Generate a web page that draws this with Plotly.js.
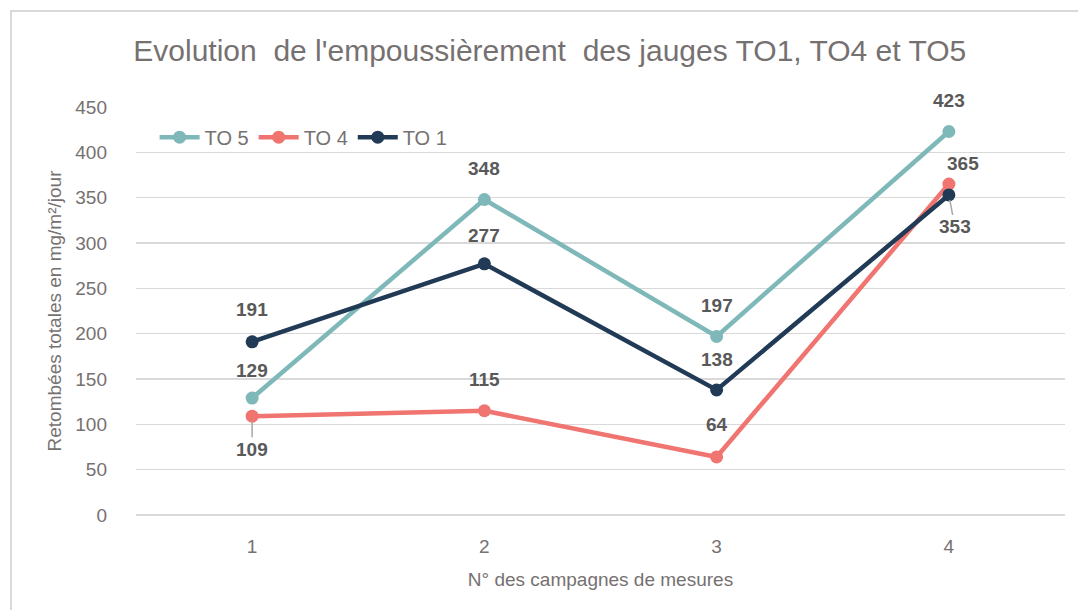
<!DOCTYPE html>
<html><head><meta charset="utf-8">
<script src="https://cdn.plot.ly/plotly-3.0.1.min.js"></script>
<style>
html,body{margin:0;padding:0;background:#fff;}
#wrap{position:relative;width:1078px;height:610px;overflow:hidden;}
#frame{position:absolute;left:10px;top:10px;width:1070px;height:620px;border:2px solid #d9d9d9;box-sizing:border-box;pointer-events:none;z-index:5;}
#chart{position:absolute;left:0;top:0;width:1078px;height:610px;}
</style></head>
<body><div id="wrap"><div id="chart"></div><div id="frame"></div></div>
<script>
const campaigns = ['1', '2', '3', '4'];
const seriesNames = ['TO 5', 'TO 4', 'TO 1'];
const to5 = [129, 348, 197, 423];
const to4 = [109, 115, 64, 365];
const to1 = [191, 277, 138, 353];
const yTicks = [0, 50, 100, 150, 200, 250, 300, 350, 400, 450];

const colors = ['#7fb8b9', '#f07470', '#213a56'];
const values = [to5, to4, to1];
// label offsets in px (dx, dy) for each point of each series
const labelOffsets = [
  [[0,-28],[0,-31],[0,-31],[0,-31]],
  [[0,33],[0,-31],[0,-32],[14,-21]],
  [[0,-32],[0,-28],[0,-30],[6,32]]
];
const leaders = [[false,false,false,false],[true,false,false,false],[false,false,false,true]];

const FONT = '"Liberation Sans Narrow", "Arial Narrow", "Liberation Sans", sans-serif';
const GRAY = '#767171';

const traces = values.map((v, i) => ({
  x: campaigns, y: v, name: seriesNames[i], type: 'scatter', mode: 'lines+markers',
  line: {color: colors[i], width: 4.5}, marker: {color: colors[i], size: 13},
  hoverinfo: 'x+y+name'
}));

const annotations = [];
values.forEach((v, i) => {
  v.forEach((val, j) => {
    const [dx, dy] = labelOffsets[i][j];
    const base = {x: j, y: val, xref: 'x', yref: 'y', text: '<b>' + val + '</b>',
      font: {family: FONT, size: 19, color: '#595959'}};
    if (leaders[i][j]) {
      annotations.push(Object.assign(base, {showarrow: true, arrowhead: 0, arrowwidth: 1.5,
        arrowcolor: '#a6a6a6', ax: dx, ay: dy, standoff: 5}));
    } else {
      annotations.push(Object.assign(base, {showarrow: false, xshift: dx, yshift: -dy}));
    }
  });
});

const layout = {
  width: 1078, height: 610,
  margin: {l: 136, r: 13, t: 107, b: 95},
  paper_bgcolor: '#ffffff', plot_bgcolor: '#ffffff',
  font: {family: FONT, color: GRAY},
  title: {text: "Evolution  de l'empoussièrement  des jauges TO1, TO4 et TO5",
    font: {family: FONT, size: 30, color: GRAY}, x: 0.51, xanchor: 'center', y: 0.918, yanchor: 'middle'},
  xaxis: {type: 'category', range: [-0.5, 3.5], showgrid: false, zeroline: false, showline: false,
    ticks: '', tickfont: {family: FONT, size: 19, color: GRAY}, ticklabelstandoff: 18,
    title: {text: 'N° des campagnes de mesures', font: {family: FONT, size: 19, color: GRAY}, standoff: 16}},
  yaxis: {range: [0, 450], tickvals: yTicks, showgrid: true, gridcolor: '#d9d9d9', gridwidth: 1.5,
    zeroline: true, zerolinecolor: '#d9d9d9', zerolinewidth: 1.5, showline: false, ticks: '',
    tickfont: {family: FONT, size: 19, color: GRAY}, ticklabelstandoff: 28,
    title: {text: 'Retombées totales en mg/m²/jour', font: {family: FONT, size: 19, color: GRAY}, standoff: 8}},
  showlegend: true,
  legend: {orientation: 'h', x: 0.02, xanchor: 'left', y: 0.926, yanchor: 'middle',
    font: {family: FONT, size: 20, color: GRAY}, bgcolor: 'rgba(0,0,0,0)', itemwidth: 40,
    traceorder: 'normal'},
  annotations: annotations
};
Plotly.newPlot('chart', traces, layout, {displayModeBar: false, staticPlot: true});
</script></body></html>
